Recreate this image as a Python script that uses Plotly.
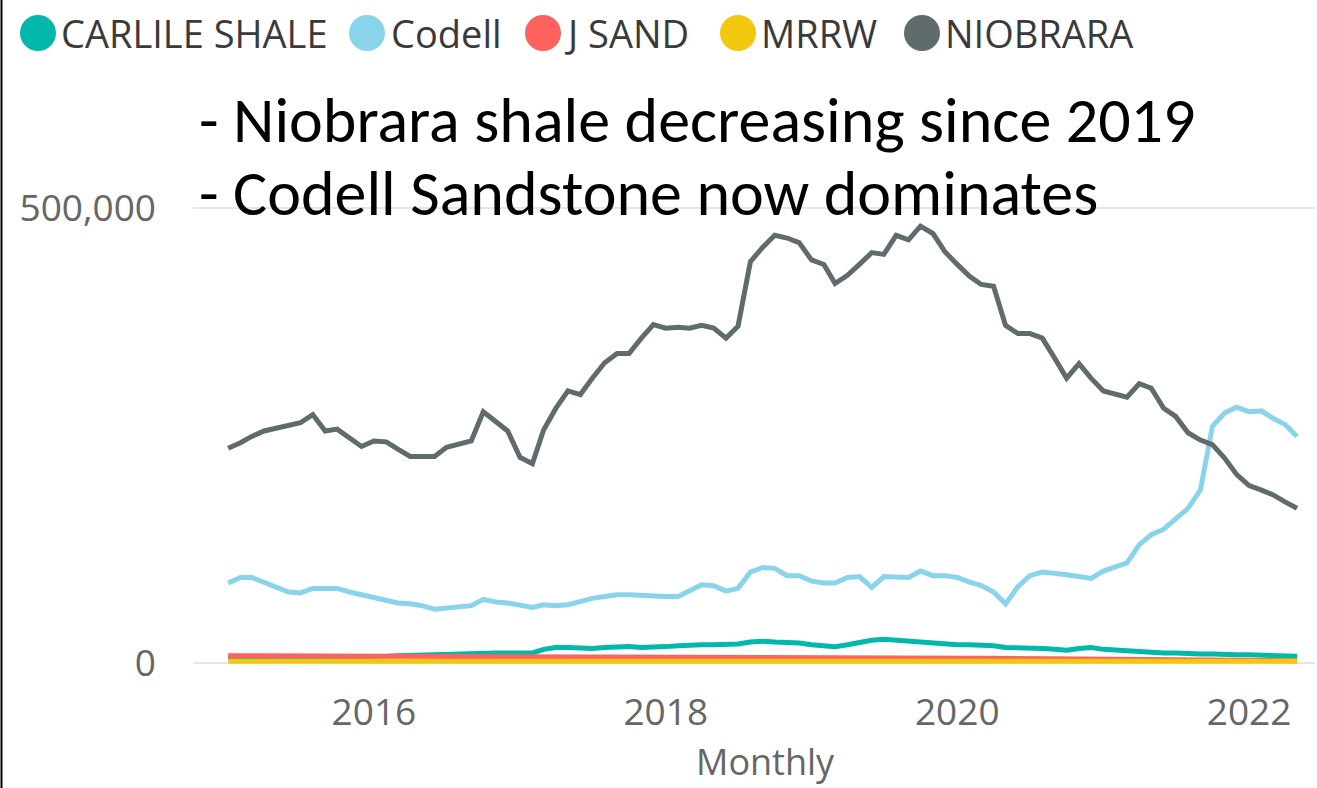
import plotly.graph_objects as go
import pandas as pd

# ---------------- data (monthly, Jan 2015 .. May 2022) ----------------
months = pd.date_range("2015-01-01", "2022-05-01", freq="MS")

niobrara = [236000, 242000, 249000, 255000, 258000, 261000, 264000, 273000, 255000, 257000,
            247000, 238000, 244000, 243000, 235000, 227000, 227000, 227000, 237000, 240000,
            244000, 276000, 266000, 255000, 226000, 219000, 256000, 280000, 299000, 295000,
            313000, 330000, 340000, 340000, 357000, 372000, 368000, 369000, 368000, 371000,
            368000, 357000, 370000, 441000, 457000, 470000, 467000, 462000, 443000, 438000,
            417000, 426000, 438000, 451000, 449000, 470000, 465000, 480000, 472000, 452000,
            438000, 425000, 416000, 414000, 371000, 362000, 362000, 357000, 335000, 313000,
            329000, 313000, 299000, 295000, 292000, 307000, 302000, 280000, 271000, 253000,
            245000, 240000, 225000, 207000, 195000, 190000, 185000, 177000, 170000]

codell = [88000, 94000, 94000, 89000, 83000, 78000, 77000, 82000, 82000, 82000,
          78000, 75000, 73000, 69000, 66000, 65000, 63000, 59000, 60000, 62000,
          63000, 70000, 67000, 66000, 63000, 61000, 64000, 63000, 64000, 68000,
          71000, 73000, 75000, 75000, 74000, 74000, 73000, 73000, 79000, 86000,
          85000, 79000, 82000, 100000, 105000, 104000, 96000, 96000, 90000, 88000,
          88000, 94000, 95000, 83000, 95000, 94000, 94000, 101000, 96000, 96000,
          94000, 89000, 85000, 78000, 65000, 84000, 96000, 100000, 99000, 97000,
          95000, 93000, 101000, 105000, 110000, 130000, 141000, 147000, 158000, 170000,
          190000, 260000, 275000, 281000, 276000, 277000, 269000, 262000, 249000]

carlile = [5000, 5000, 5000, 5500, 5500, 6000, 6000, 6000, 6500, 6500,
           7000, 7000, 7500, 7500, 8000, 8500, 9000, 9500, 10000, 10000,
           10500, 11000, 11000, 11000, 10500, 11000, 15000, 17000, 17000, 16000,
           16000, 17000, 18000, 18000, 17000, 17000, 18000, 19000, 20000, 20000,
           20000, 20000, 21000, 23000, 24000, 23000, 23000, 22000, 20000, 19000,
           18000, 20000, 23000, 25000, 26000, 25000, 23000, 23000, 22000, 21000,
           20000, 20000, 20000, 19000, 17000, 17000, 17000, 16000, 15000, 14000,
           16000, 17000, 15000, 14000, 13000, 12000, 12000, 11000, 11000, 10000,
           10000, 10000, 9000, 9000, 9000, 8500, 8000, 8000, 7500]

jsand = [8000, 8000, 7900, 7900, 7800, 7800, 7700, 7700, 7600, 7600,
         7500, 7500, 7400, 7400, 7300, 7300, 7200, 7200, 7100, 7100,
         7000, 7000, 7000, 6900, 6900, 6800, 6800, 6700, 6700, 6700,
         6600, 6600, 6500, 6500, 6500, 6400, 6400, 6300, 6300, 6300,
         6200, 6200, 6200, 6100, 6100, 6100, 6000, 6000, 6000, 6000,
         5900, 5900, 5800, 5800, 5700, 5700, 5600, 5600, 5500, 5500,
         5400, 5300, 5200, 5100, 5000, 4800, 4600, 4400, 4200, 4000,
         3800, 3600, 3400, 3200, 3000, 3000, 2900, 2900, 2800, 2800,
         2700, 2700, 2600, 2600, 2500, 2500, 2500, 2500, 2500]

mrrw = [2000, 2000, 2000, 2100, 2100, 2100, 2000, 2000, 2000, 2000,
        2000, 1900, 1900, 1900, 2000, 2000, 2000, 2000, 2100, 2100,
        2100, 2100, 2000, 2000, 2000, 2000, 2000, 2000, 2000, 2100,
        2100, 2100, 2100, 2000, 2000, 2000, 2000, 2000, 2000, 2000,
        2000, 2000, 2000, 2000, 2100, 2100, 2100, 2000, 2000, 2000,
        2000, 2000, 2000, 2000, 2000, 2000, 2000, 2000, 1900, 1900,
        1900, 1900, 1900, 1900, 1900, 1900, 1900, 1900, 1900, 1900,
        1900, 1900, 1900, 1900, 1900, 1900, 1900, 1900, 1900, 1900,
        1900, 1900, 1900, 1900, 1900, 1900, 1900, 1900, 1900]

series_names = ["CARLILE SHALE", "Codell", "J SAND", "MRRW", "NIOBRARA"]
series_values = [carlile, codell, jsand, mrrw, niobrara]
series_colors = ["#01B8AA", "#8AD4EB", "#FD625E", "#F2C80F", "#5F6B6D"]

x_tick_vals = ["2016-01-01", "2018-01-01", "2020-01-01", "2022-01-01"]
x_tick_text = ["2016", "2018", "2020", "2022"]
y_tick_vals = [0, 500000]
x_title = "Monthly"

notes = ["- Niobrara shale decreasing since 2019", "- Codell Sandstone now dominates"]

# ---------------- layout geometry (pixels) ----------------
W, H = 1317, 788
ML, MR, MT, MB = 193, 2, 190, 116
PW, PH = W - ML - MR, H - MT - MB


def px_x(px):
    return (px - ML) / PW


def px_y(py):
    return (H - MB - py) / PH


FONT = "Segoe UI, Open Sans, sans-serif"

fig = go.Figure()
for name, vals, col in zip(series_names, series_values, series_colors):
    fig.add_trace(go.Scatter(x=months, y=vals, name=name, mode="lines",
                             line=dict(color=col, width=5), showlegend=False))

fig.update_layout(
    width=W, height=H,
    margin=dict(l=ML, r=MR, t=MT, b=MB, autoexpand=False),
    paper_bgcolor="white", plot_bgcolor="white",
    font=dict(family=FONT, color="#666666", size=37),
    showlegend=False,
)
fig.update_xaxes(
    range=["2014-10-05", "2022-06-15"],
    tickvals=x_tick_vals, ticktext=x_tick_text,
    showgrid=False, zeroline=False, showline=False, ticks="",
    tickfont=dict(size=37, color="#666666", family=FONT),
    ticklabelstandoff=15,
)
fig.update_yaxes(
    range=[-(H - MB - 663) * 500000 / 455, (663 - MT) * 500000 / 455],
    tickvals=y_tick_vals, tickformat=",",
    showgrid=True, gridcolor="#E6E6E6", gridwidth=2,
    zeroline=False, showline=False, ticks="",
    tickfont=dict(size=37, color="#666666", family=FONT),
    ticklabelstandoff=36,
)

# x axis title (placed where the reference shows it)
fig.add_annotation(text=x_title, xref="paper", yref="paper",
                   x=px_x(765), y=px_y(761), xanchor="center", yanchor="middle",
                   showarrow=False, font=dict(size=36, color="#666666", family=FONT))

# manual legend (circle markers + labels)
legend_cx = [38, 367, 543, 738, 922]
legend_tx = [59, 389, 562, 759, 943]
for cx, tx, name, col in zip(legend_cx, legend_tx, series_names, series_colors):
    fig.add_shape(type="circle", xref="paper", yref="paper",
                  xsizemode="pixel", ysizemode="pixel",
                  xanchor=px_x(cx), yanchor=px_y(33),
                  x0=-18, x1=18, y0=-18, y1=18,
                  fillcolor=col, line=dict(width=0))
    fig.add_annotation(text=name, xref="paper", yref="paper",
                       x=px_x(tx), y=px_y(33), xanchor="left", yanchor="middle",
                       showarrow=False, font=dict(size=38, color="#3a3a3a", family=FONT))

# notes
note_y = [120, 193]
for txt, ny in zip(notes, note_y):
    fig.add_annotation(text=txt, xref="paper", yref="paper",
                       x=px_x(197), y=px_y(ny), xanchor="left", yanchor="middle",
                       showarrow=False,
                       font=dict(size=64, color="#000000", family="Carlito, Calibri, Open Sans, sans-serif"))

# left border line of the frame
fig.add_shape(type="line", xref="paper", yref="paper",
              x0=px_x(1.5), x1=px_x(1.5), y0=px_y(0), y1=px_y(H),
              line=dict(color="#000000", width=2))

fig.write_html("out.html", config={"displayModeBar": False},
               post_script="document.body.style.margin='0';document.body.style.overflow='hidden';")
